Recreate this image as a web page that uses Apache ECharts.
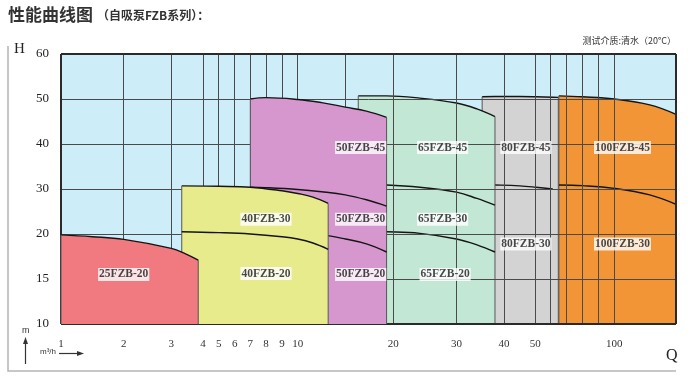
<!DOCTYPE html>
<html>
<head>
<meta charset="utf-8">
<script src="https://cdn.jsdelivr.net/npm/echarts@6/dist/echarts.min.js"></script>
<style>
  html, body { margin: 0; padding: 0; background: #fff; }
  #chart { width: 688px; height: 378px; }
</style>
</head>
<body>
<div id="chart"></div>
<script>
// flow axis (Q, m3/h) is hand drawn, not a true log scale: tick value -> axis unit
const qTicks = [1, 2, 3, 4, 5, 6, 7, 8, 9, 10, 15, 20, 30, 40, 50, 60, 70, 80, 90, 100, 140];
const qUnits = [0, 62.7, 110.3, 142, 157.7, 173.7, 189.3, 205, 221, 236.7, 284.3, 332.3, 395.5, 443, 474.3, 489.7, 505.7, 521.7, 537.3, 553.3, 615];
const qLabels = [1, 2, 3, 4, 5, 6, 7, 8, 9, 10, 20, 30, 40, 50, 100];
// head axis (H, m): evenly spaced ticks
const hLabels = [10, 15, 20, 30, 40, 50, 60];

// H-Q curves
const q25 = [1, 1.5, 2, 3, 3.45, 3.85];
const h25_20 = [19.9, 19.7, 19.4, 18.4, 17.8, 17.1];

const q40 = [3.33, 5, 7, 9, 10, 11.6, 13.2];
const h40_30 = [30.7, 30.6, 30.4, 29.6, 29.0, 28.2, 26.8];
const h40_20 = [20.5, 20.3, 20.0, 19.7, 19.45, 19.0, 18.3];

const q50 = [7, 8, 10, 12.5, 15, 17.2, 19.3];
const h50_45 = [50.0, 50.3, 49.9, 49.2, 48.2, 47.3, 45.9];
const h50_30 = [30.4, 30.3, 29.9, 29.4, 28.7, 27.6, 26.2];
const h50_20 = [20.3, 20.25, 20.1, 19.9, 19.45, 18.9, 18.0];

const q65 = [16.35, 19.3, 24.2, 30, 34.3, 38.1];
const h65_45 = [50.7, 50.7, 50.2, 49.1, 47.8, 46.1];
const h65_30 = [31.0, 30.9, 30.4, 29.3, 27.9, 26.4];
const h65_20 = [20.6, 20.5, 20.15, 19.45, 18.8, 18.0];

const q80 = [35.4, 38.1, 45, 50.3, 61.3, 64.75];
const h80_45 = [50.5, 50.55, 50.55, 50.5, 50.4, 50.35];
const q80_30 = [35.4, 38.1, 45, 50.3, 61.3];
const h80_30 = [30.95, 30.9, 30.7, 30.4, 30.0];

const q100 = [65.1, 80, 100, 123, 140];
const h100_45 = [50.7, 50.5, 50.0, 48.7, 46.6];
const h100_30 = [30.9, 30.75, 30.15, 28.7, 26.6];

// model labels
const labelNames = ['25FZB-20', '40FZB-30', '40FZB-20', '50FZB-45', '50FZB-30', '50FZB-20',
  '65FZB-45', '65FZB-30', '65FZB-20', '80FZB-45', '80FZB-30', '100FZB-45', '100FZB-30'];
const labelQ = [2, 8, 8, 16.6, 16.6, 16.6, 27.8, 27.8, 28.2, 47, 47, 105.3, 105.3];
const labelH = [15.5, 23.3, 15.6, 39.2, 23.3, 15.5, 39.2, 23.3, 15.5, 39.2, 18.9, 39.2, 18.9];

function interp(v, from, to) {
  for (let i = 0; i < from.length - 1; i++) {
    if (v <= from[i + 1] || i === from.length - 2) {
      return to[i] + (v - from[i]) / (from[i + 1] - from[i]) * (to[i + 1] - to[i]);
    }
  }
}
const fx = q => interp(q, qTicks, qUnits);
const fy = h => interp(h, hLabels, [0, 1, 2, 3, 4, 5, 6]);
const pts = (qs, hs) => qs.map((q, i) => [fx(q), fy(hs[i])]);

// drawn back to front: each family covers the one before it
const families = [
  { color: '#f29536', top: [q100, h100_45], inner: [[q100, h100_30]] },
  { color: '#d3d3d3', top: [q80, h80_45], inner: [[q80_30, h80_30]] },
  { color: '#c2e7d4', top: [q65, h65_45], inner: [[q65, h65_30], [q65, h65_20]] },
  { color: '#d697cf', top: [q50, h50_45], inner: [[q50, h50_30], [q50, h50_20]] },
  { color: '#e7eb8b', top: [q40, h40_30], inner: [[q40, h40_20]] },
  { color: '#f17a80', top: [q25, h25_20], inner: [] }
];

const series = [];
const curveStyle = { color: '#151515', width: 1.4 };
families.forEach((f, i) => {
  const z = 2 + i;
  const [qs, hs] = f.top;
  series.push({
    type: 'line', z, data: pts(qs, hs), smooth: 0.4, showSymbol: false, silent: true,
    lineStyle: curveStyle, areaStyle: { color: f.color, opacity: 1 }
  });
  [0, qs.length - 1].forEach(k => {
    series.push({
      type: 'line', z, data: [[fx(qs[k]), 0], [fx(qs[k]), fy(hs[k])]], showSymbol: false, silent: true,
      lineStyle: { color: '#555', width: 1 }
    });
  });
  f.inner.forEach(([iq, ih]) => {
    series.push({
      type: 'line', z, data: pts(iq, ih), smooth: 0.4, showSymbol: false, silent: true,
      lineStyle: curveStyle
    });
  });
});

// grid lines over the coloured areas
const gridLine = { color: '#4a4a4a', width: 1, type: 'solid' };
const frameLine = { color: '#2a2a2a', width: 2, type: 'solid' };
const marks = [];
qTicks.slice(1, -1).forEach(q => marks.push({ xAxis: fx(q), lineStyle: gridLine }));
[1, 2, 3, 4, 5].forEach(v => marks.push({ yAxis: v, lineStyle: gridLine }));
marks.push({ xAxis: 0, lineStyle: frameLine }, { xAxis: 615, lineStyle: frameLine },
  { yAxis: 0, lineStyle: frameLine }, { yAxis: 6, lineStyle: frameLine });
series.push({
  type: 'line', z: 9, data: [], silent: true, clip: false,
  markLine: { silent: true, symbol: 'none', label: { show: false }, animation: false, data: marks }
});

series.push({
  type: 'scatter', z: 10, symbolSize: 0, silent: true,
  data: labelNames.map((n, i) => ({ name: n, value: [fx(labelQ[i]), fy(labelH[i])] })),
  label: {
    show: true, position: 'inside', formatter: p => p.name,
    fontFamily: 'Liberation Serif', fontWeight: 'bold', fontSize: 11.5, color: '#1a1a1a',
    backgroundColor: '#fff', padding: [1, 1, 0, 1]
  }
});

const chart = echarts.init(document.getElementById('chart'), null, { renderer: 'canvas' });
chart.setOption({
  animation: false,
  grid: { left: 61, right: 12, top: 54, bottom: 54, show: true, backgroundColor: '#cdedf8', borderWidth: 0 },
  xAxis: {
    type: 'value', min: 0, max: 615,
    axisLine: { show: false }, axisTick: { show: false }, splitLine: { show: false },
    axisLabel: {
      customValues: qLabels.map(fx), margin: 15,
      formatter: v => String(qLabels[qLabels.map(fx).findIndex(u => Math.abs(u - v) < 0.5)]),
      fontFamily: 'Liberation Serif', fontSize: 11, color: '#333'
    }
  },
  yAxis: {
    type: 'value', min: 0, max: 6, interval: 1,
    axisLine: { show: false }, axisTick: { show: false }, splitLine: { show: false },
    axisLabel: {
      margin: 12, formatter: v => String(hLabels[v]),
      fontFamily: 'Liberation Serif', fontSize: 13, color: '#222'
    }
  },
  series,
  graphic: [
    { type: 'text', left: 8, top: 6, style: { text: '性能曲线图', font: 'bold 17px "Noto Sans CJK SC"', fill: '#333' } },
    { type: 'text', left: 97, top: 9, style: { text: '（自吸泵FZB系列）：', font: 'bold 12px "Noto Sans CJK SC"', fill: '#333' } },
    { type: 'text', right: 12, top: 36, style: { text: '测试介质:清水（20°C）', font: '9px "Noto Sans CJK SC"', fill: '#333' } },
    { type: 'text', left: 14, top: 42, style: { text: 'H', font: '15px "Liberation Serif"', fill: '#222' } },
    { type: 'text', left: 666, top: 348, style: { text: 'Q', font: '16px "Liberation Serif"', fill: '#222' } },
    { type: 'text', left: 22, top: 326, style: { text: 'm', font: '9px "Liberation Sans"', fill: '#333' } },
    { type: 'text', left: 40, top: 348, style: { text: 'm³/h', font: '8px "Liberation Sans"', fill: '#333' } },
    { type: 'line', shape: { x1: 25.5, y1: 364, x2: 25.5, y2: 341 }, style: { stroke: '#333', lineWidth: 1.2 } },
    { type: 'polygon', shape: { points: [[25.5, 337], [23, 344], [28, 344]] }, style: { fill: '#333' } },
    { type: 'line', shape: { x1: 59, y1: 353.5, x2: 80, y2: 353.5 }, style: { stroke: '#333', lineWidth: 1.2 } },
    { type: 'polygon', shape: { points: [[84, 353.5], [77, 351], [77, 356]] }, style: { fill: '#333' } },
    { type: 'polyline', shape: { points: [[8, 46], [8, 371], [676, 371]] }, style: { stroke: '#b5b5b5', lineWidth: 1.5, fill: null } }
  ]
});
</script>
</body>
</html>
